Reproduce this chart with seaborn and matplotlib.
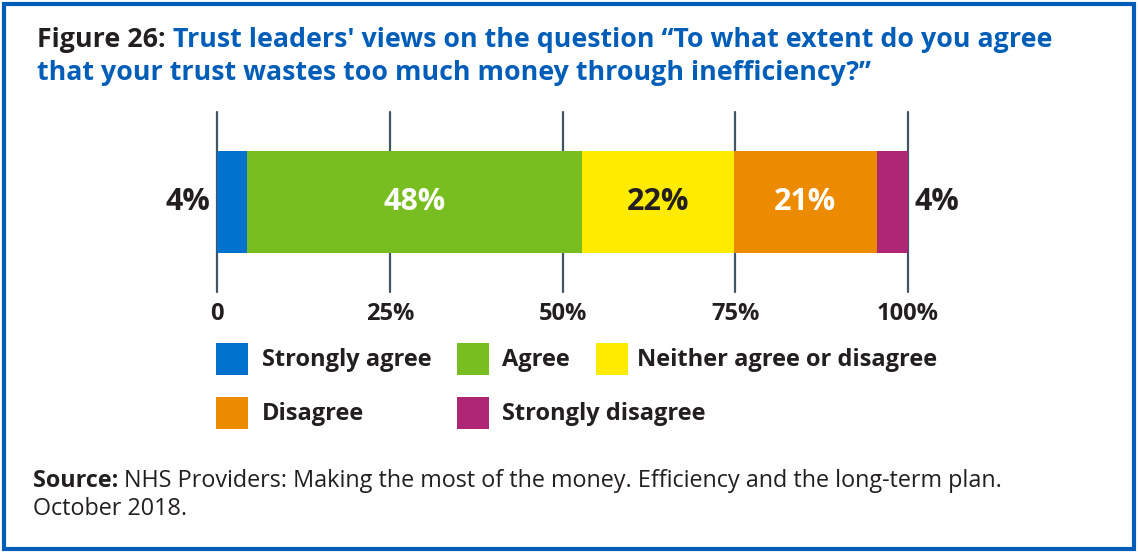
import matplotlib
matplotlib.use("Agg")
import matplotlib.pyplot as plt
from matplotlib.patches import Rectangle
import seaborn as sns
import numpy as np

# ---- data ----
categories = ["Strongly agree", "Agree", "Neither agree or disagree", "Disagree", "Strongly disagree"]
values = [4.3, 48.5, 22.0, 20.7, 4.5]
value_labels = ["4%", "48%", "22%", "21%", "4%"]
colors = ["#0072CE", "#78BE20", "#FFEB00", "#ED8B00", "#AE2573"]
label_colors = ["#231F20", "white", "#231F20", "white", "#231F20"]
tick_values = [0, 25, 50, 75, 100]
tick_labels = ["0", "25%", "50%", "75%", "100%"]
row_name = ["Trust leaders"]

sns.set_theme(style="white")
plt.rcParams["font.family"] = ["Open Sans", "DejaVu Sans"]

W, H = 1138, 553
fig = plt.figure(figsize=(W / 100, H / 100), dpi=100)

def fx(px):
    return px / W

def fy(py):
    return 1 - py / H

# axes placement (pixels)
L, R, T, B = 217, 908, 112, 292
ax = fig.add_axes([fx(L), fy(B), fx(R) - fx(L), fy(T) - fy(B)])

cum = np.cumsum(values)
for i in reversed(range(len(values))):
    sns.barplot(x=[cum[i]], y=row_name, color=colors[i], width=0.567,
                orient="h", ax=ax, saturation=1, linewidth=0, zorder=2)

ax.set_xlim(0, 100)
ax.set_ylim(0.5, -0.5)
ax.set_xticks(tick_values)
ax.set_xticklabels(tick_labels, fontsize=17, fontweight="bold", color="#231F20")
ax.set_yticks([])
ax.set_xlabel("")
ax.set_ylabel("")
ax.tick_params(axis="x", length=0, pad=7)
for s in ax.spines.values():
    s.set_visible(False)
ax.grid(axis="x", color="#425563", linewidth=1.6)
ax.grid(axis="y", visible=False)
ax.set_axisbelow(True)
for gl in ax.get_xgridlines():
    gl.set_clip_on(False)
    gl.set_zorder(0)

# bar labels
starts = np.concatenate([[0], cum[:-1]])
for i, (s, v, lab) in enumerate(zip(starts, values, value_labels)):
    if i == 0:
        ax.text(-1.0, 0, lab, ha="right", va="center", fontsize=22, fontweight="bold",
                color="#231F20")
    elif i == len(values) - 1:
        ax.text(1.0 + 100, 0, lab, ha="left", va="center", fontsize=22, fontweight="bold",
                color="#231F20")
    else:
        ax.text(s + v / 2, 0, lab, ha="center", va="center", fontsize=22,
                fontweight="bold", color=label_colors[i])

# legend (manual)
leg_pos = [(216, 359), (457, 359), (596, 359), (216, 413), (457, 413)]
leg_text_x = [262, 502, 637, 262, 502]
sq = 32
for (x0, yc), tx, c, name in zip(leg_pos, leg_text_x, colors, categories):
    fig.patches.append(Rectangle((fx(x0), fy(yc + sq / 2)), sq / W, sq / H,
                                 transform=fig.transFigure, facecolor=c,
                                 edgecolor="none"))
    fig.text(fx(tx), fy(yc + 1), name, ha="left", va="center",
             fontsize=17, fontweight="bold", color="#231F20")

# title
fig.canvas.draw()
r = fig.canvas.get_renderer()
t1 = fig.text(fx(37), fy(40), "Figure 26: ", ha="left", va="center", fontsize=19.3,
              fontweight="bold", color="#231F20")
bb = t1.get_window_extent(renderer=r)
fig.text(bb.x1 / W, fy(40),
         "Trust leaders' views on the question \u201cTo what extent do you agree",
         ha="left", va="center", fontsize=19.3, fontweight="bold", color="#005EB8")
fig.text(fx(37), fy(73),
         "that your trust wastes too much money through inefficiency?\u201d",
         ha="left", va="center", fontsize=19.3, fontweight="bold", color="#005EB8")

# source
s1 = fig.text(fx(33), fy(481), "Source: ", ha="left", va="center", fontsize=16.8,
              fontweight="bold", color="#231F20")
bb = s1.get_window_extent(renderer=r)
fig.text(bb.x1 / W, fy(481),
         "NHS Providers: Making the most of the money. Efficiency and the long-term plan.",
         ha="left", va="center", fontsize=16.8, color="#231F20")
fig.text(fx(33), fy(509), "October 2018.", ha="left", va="center", fontsize=16.8,
         color="#231F20")

# border
fig.patches.append(Rectangle((fx(4), fy(549)), (W - 8) / W, (549 - 4) / H,
                             transform=fig.transFigure, facecolor="none",
                             edgecolor="#005EB8", linewidth=3))

fig.savefig("out.png", dpi=100)
